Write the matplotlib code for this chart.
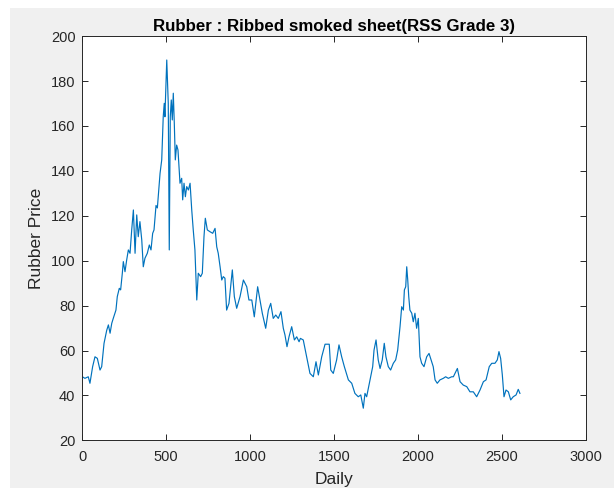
import matplotlib
matplotlib.use("Agg")
import matplotlib.pyplot as plt
from matplotlib.patches import Rectangle

# Values (day index, price)
days = [0, 15, 35, 45, 61, 75, 89, 105, 115, 129, 145, 155, 165, 175, 184, 200, 208, 220, 228, 238,
        244, 254, 264, 274, 284, 294, 304, 314, 324, 333, 343, 354, 363, 373, 387, 399, 409, 419, 427, 439,
        447, 463, 473, 482, 488, 492, 503, 512, 518, 524, 530, 536, 542, 548, 554, 562, 570, 582, 592, 598,
        606, 614, 622, 632, 642, 652, 661, 671, 682, 691, 705, 715, 725, 733, 745, 761, 777, 791, 801, 810,
        821, 831, 840, 850, 860, 874, 886, 894, 906, 920, 940, 960, 980, 993, 1010, 1025, 1045, 1059, 1073, 1093,
        1109, 1123, 1138, 1153, 1168, 1184, 1198, 1208, 1220, 1232, 1248, 1264, 1278, 1292, 1300, 1317, 1337, 1357, 1377, 1393,
        1407, 1427, 1447, 1472, 1481, 1496, 1516, 1530, 1546, 1562, 1586, 1606, 1625, 1645, 1660, 1675, 1685, 1695, 1715, 1731,
        1739, 1751, 1764, 1775, 1788, 1800, 1810, 1824, 1838, 1854, 1868, 1880, 1894, 1904, 1914, 1920, 1928, 1934, 1940, 1946,
        1953, 1964, 1973, 1983, 1993, 2003, 2013, 2023, 2037, 2053, 2067, 2079, 2092, 2103, 2116, 2132, 2152, 2166, 2182, 2202,
        2212, 2236, 2252, 2271, 2292, 2311, 2331, 2351, 2371, 2391, 2407, 2426, 2441, 2460, 2474, 2484, 2494, 2504, 2514, 2526,
        2540, 2554, 2569, 2586, 2599, 2609]
price = [48.3, 47.6, 48.3, 45.4, 52.8, 57.2, 56.5, 51.3, 52.8, 63.2, 69.0, 71.4, 67.7, 72.1, 74.3, 78.0, 84.0, 87.7, 87.0, 94.4,
         99.6, 95.1, 100.3, 104.8, 103.3, 113.7, 122.6, 103.3, 120.4, 110.7, 117.4, 109.2, 97.3, 101.1, 103.3, 107.0, 104.8, 112.2, 113.7, 124.6,
         123.5, 138.9, 144.9, 164.1, 170.1, 164.1, 189.4, 170.1, 104.8, 164.1, 171.6, 162.7, 174.6, 161.2, 144.9, 151.5, 149.3, 134.5, 136.7, 127.1,
         134.5, 128.5, 133.0, 131.5, 134.5, 122.6, 113.7, 104.8, 82.5, 94.4, 92.9, 94.4, 110.7, 118.9, 113.7, 112.9, 112.2, 114.4, 106.2, 103.3,
         97.3, 91.4, 92.9, 92.2, 78.0, 81.0, 89.9, 95.9, 84.0, 78.8, 84.0, 91.4, 88.4, 82.5, 82.5, 75.0, 88.4, 82.5, 76.5, 69.9,
         78.0, 81.0, 74.3, 75.8, 74.3, 77.3, 69.9, 66.9, 61.7, 66.1, 70.6, 64.7, 66.1, 63.9, 65.4, 64.7, 57.2, 49.8, 48.3, 55.0,
         49.1, 57.2, 62.8, 62.8, 51.3, 49.8, 55.8, 62.5, 57.2, 52.8, 46.9, 45.4, 40.9, 39.4, 40.2, 34.3, 40.9, 39.4, 46.9, 52.8,
         60.2, 64.7, 55.8, 52.0, 55.8, 63.2, 57.2, 52.8, 51.3, 54.3, 55.8, 60.2, 70.6, 79.5, 78.0, 87.0, 88.4, 97.3, 91.4, 84.0,
         78.0, 76.6, 72.8, 76.6, 69.9, 74.3, 57.2, 54.3, 52.8, 57.2, 58.7, 55.8, 52.8, 46.9, 45.4, 46.9, 47.6, 48.3, 47.6, 48.3,
         48.3, 52.0, 46.1, 44.6, 43.9, 41.6, 41.6, 39.4, 42.4, 46.1, 46.9, 52.8, 54.3, 54.3, 55.8, 59.5, 56.5, 49.1, 39.4, 42.4,
         41.6, 38.0, 39.4, 40.2, 42.7, 40.9]

x_ticks = [0, 500, 1000, 1500, 2000, 2500, 3000]
y_ticks = [20, 40, 60, 80, 100, 120, 140, 160, 180, 200]
title = "Rubber : Ribbed smoked sheet(RSS Grade 3)"
x_label = "Daily"
y_label = "Rubber Price"

plt.rcParams['font.family'] = ['Liberation Sans', 'DejaVu Sans']

W, H = 614, 491
fig = plt.figure(figsize=(W / 100, H / 100), dpi=100, facecolor='white')
# MATLAB-style grey figure area
fig.patches.append(Rectangle((10 / W, 1 - 488 / H), (W - 10) / W, (488 - 8) / H,
                             transform=fig.transFigure, facecolor='#f0f0f0',
                             edgecolor='none', zorder=-10))

ax = fig.add_axes([82.4 / W, 1 - 440.3 / H, (585.5 - 82.4) / W, (440.3 - 36.2) / H])
ax.set_facecolor('white')
ax.plot(days, price, color='#0072BD', linewidth=0.85)

ax.set_xlim(0, 3000)
ax.set_ylim(20, 200)
ax.set_xticks(x_ticks)
ax.set_yticks(y_ticks)
ax.tick_params(direction='in', length=4, width=0.7, colors='#262626',
               labelsize=10.5, top=True, right=True, pad=5)
ax.tick_params(axis='x', pad=7)
for s in ax.spines.values():
    s.set_color('#262626')
    s.set_linewidth(0.7)

ax.set_title(title, fontsize=12.2, fontweight='bold', color='#000000', pad=4)
ax.set_xlabel(x_label, fontsize=12.5, color='#262626', labelpad=6)
ax.set_ylabel(y_label, fontsize=12.5, color='#262626', labelpad=5)

fig.savefig('out.png', dpi=100, facecolor=fig.get_facecolor())
